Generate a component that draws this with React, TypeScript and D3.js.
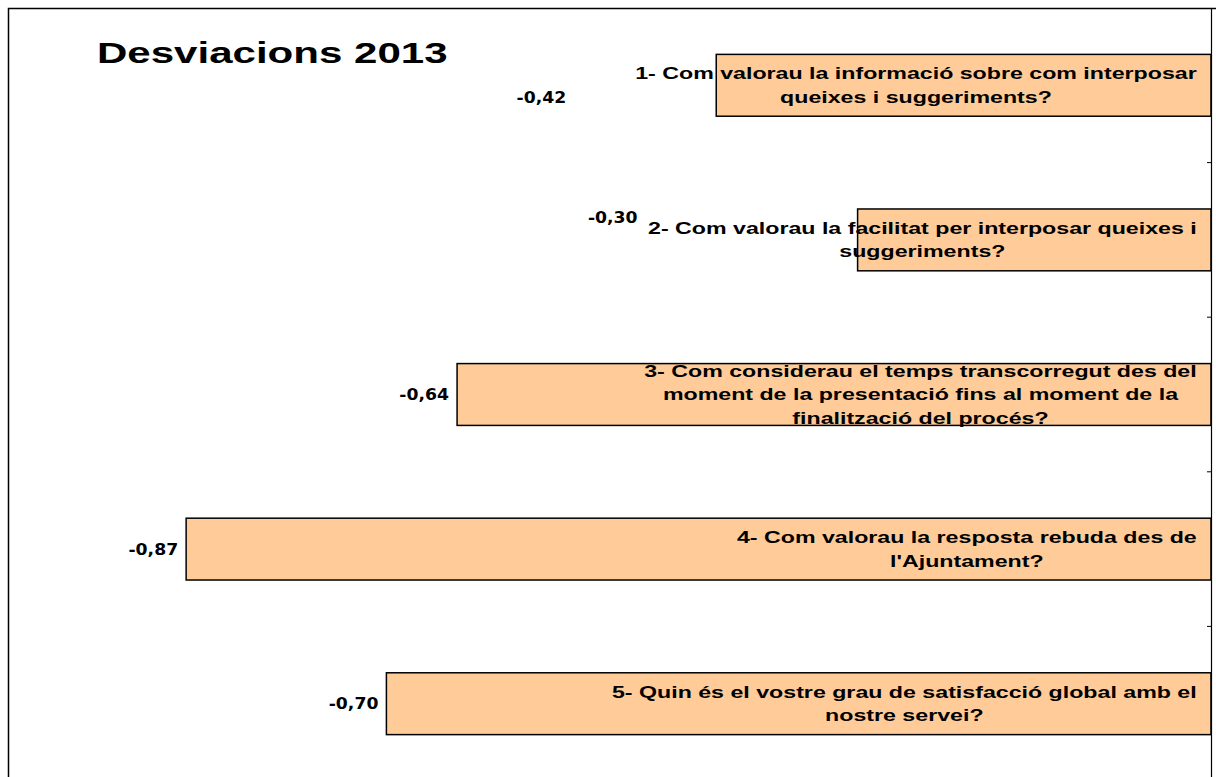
import React, { useEffect, useRef } from "react";
import * as d3 from "d3";

// Desviacions 2013 - one bar per question, all values negative
const categories = ["P1", "P2", "P3", "P4", "P5"];
const values = [-0.42, -0.3, -0.64, -0.87, -0.7];
const valueLabels = ["-0,42", "-0,30", "-0,64", "-0,87", "-0,70"];
const questionLines = [
  ["1- Com valorau la informació sobre com interposar", "queixes i suggeriments?"],
  ["2- Com valorau la facilitat per interposar queixes i", "suggeriments?"],
  [
    "3- Com considerau el temps transcorregut des del",
    "moment de la presentació fins al moment de la",
    "finalització del procés?",
  ],
  ["4- Com valorau la resposta rebuda des de", "l'Ajuntament?"],
  ["5- Quin és el vostre grau de satisfacció global amb el", "nostre servei?"],
];
const xDomain = [-1, 0];
// excel dropped the first two value labels in odd places
const labelNudge = [
  [-142, 12],
  [-212, -22],
  [0, 0],
  [0, 0],
  [0, 0],
];

const W = 1216;
const H = 777;
const STRETCH = 1.45; // the source picture is stretched sideways

export default function App() {
  const svgRef = useRef<SVGSVGElement>(null);

  useEffect(() => {
    const svg = d3.select(svgRef.current);
    svg.selectAll("*").remove();

    const plot = { left: 33, right: 1211, top: 8, bottom: 781 };
    const x = d3.scaleLinear().domain(xDomain).range([plot.left, plot.right]);
    const y = d3
      .scaleBand()
      .domain(categories)
      .range([plot.top, plot.bottom])
      .paddingInner(0.6)
      .paddingOuter(0.3);

    // outer frame
    svg
      .append("path")
      .attr("d", `M8.5,${H + 5} V8.5 H${W + 5}`)
      .attr("fill", "none")
      .attr("stroke", "#000")
      .attr("stroke-width", 1.5);

    // bars
    svg
      .selectAll(".bar")
      .data(values)
      .join("rect")
      .attr("class", "bar")
      .attr("x", (d) => x(d))
      .attr("y", (d, i) => y(categories[i])!)
      .attr("width", (d) => x(0) - x(d))
      .attr("height", y.bandwidth())
      .attr("fill", "#FFCC99")
      .attr("stroke", "#000")
      .attr("stroke-width", 1.5);

    // value axis sits on the right at zero
    const axis = d3
      .axisRight(y)
      .tickSize(0)
      .tickFormat(() => "");
    const ax = svg.append("g").attr("transform", `translate(${x(0)},0)`).call(axis);
    ax.select(".domain").attr("stroke", "#000").attr("stroke-width", 1.2);
    const step = y.step();
    d3.range(1, categories.length).forEach((k) => {
      ax.append("line")
        .attr("x1", -4)
        .attr("x2", 0)
        .attr("y1", plot.top + k * step)
        .attr("y2", plot.top + k * step)
        .attr("stroke", "#000");
    });

    // question text inside the bars
    const lineGap = 23.5;
    const blockRight = 1197;
    questionLines.forEach((lines, i) => {
      const cy = y(categories[i])! + y.bandwidth() / 2;
      const g = svg.append("g");
      const texts = lines.map((ln, j) =>
        g
          .append("text")
          .text(ln)
          .attr("font-family", "Arial, 'Liberation Sans', sans-serif")
          .attr("font-weight", "bold")
          .attr("font-size", 16)
          .attr("text-anchor", "middle")
          .attr("fill", "#000")
          .attr("data-y", cy - ((lines.length - 1) * lineGap) / 2 + 5.7 + j * lineGap)
      );
      const widths = texts.map((t) => (t.node() as SVGTextElement).getComputedTextLength() * STRETCH);
      const cx = blockRight - d3.max(widths)! / 2;
      texts.forEach((t) => {
        const ty = +t.attr("data-y");
        t.attr("transform", `translate(${cx},${ty}) scale(${STRETCH},1)`);
      });
    });

    // value labels left of bars
    values.forEach((v, i) => {
      const cy = y(categories[i])! + y.bandwidth() / 2;
      const [dx, dy] = labelNudge[i];
      svg
        .append("text")
        .text(valueLabels[i])
        .attr("transform", `translate(${x(v) - 8 + dx},${cy + dy + 5.5}) scale(1.15,1)`)
        .attr("text-anchor", "end")
        .attr("font-family", "'DejaVu Sans', Verdana, sans-serif")
        .attr("font-weight", "bold")
        .attr("font-size", 15)
        .attr("fill", "#000");
    });

    // title
    svg
      .append("text")
      .text("Desviacions 2013")
      .attr("transform", `translate(97,63) scale(${STRETCH},1)`)
      .attr("font-family", "Arial, 'Liberation Sans', sans-serif")
      .attr("font-weight", "bold")
      .attr("font-size", 29)
      .attr("fill", "#000");
  }, []);

  return (
    <svg
      ref={svgRef}
      width={W}
      height={H}
      style={{ position: "absolute", left: 0, top: 0, background: "#fff" }}
    />
  );
}
